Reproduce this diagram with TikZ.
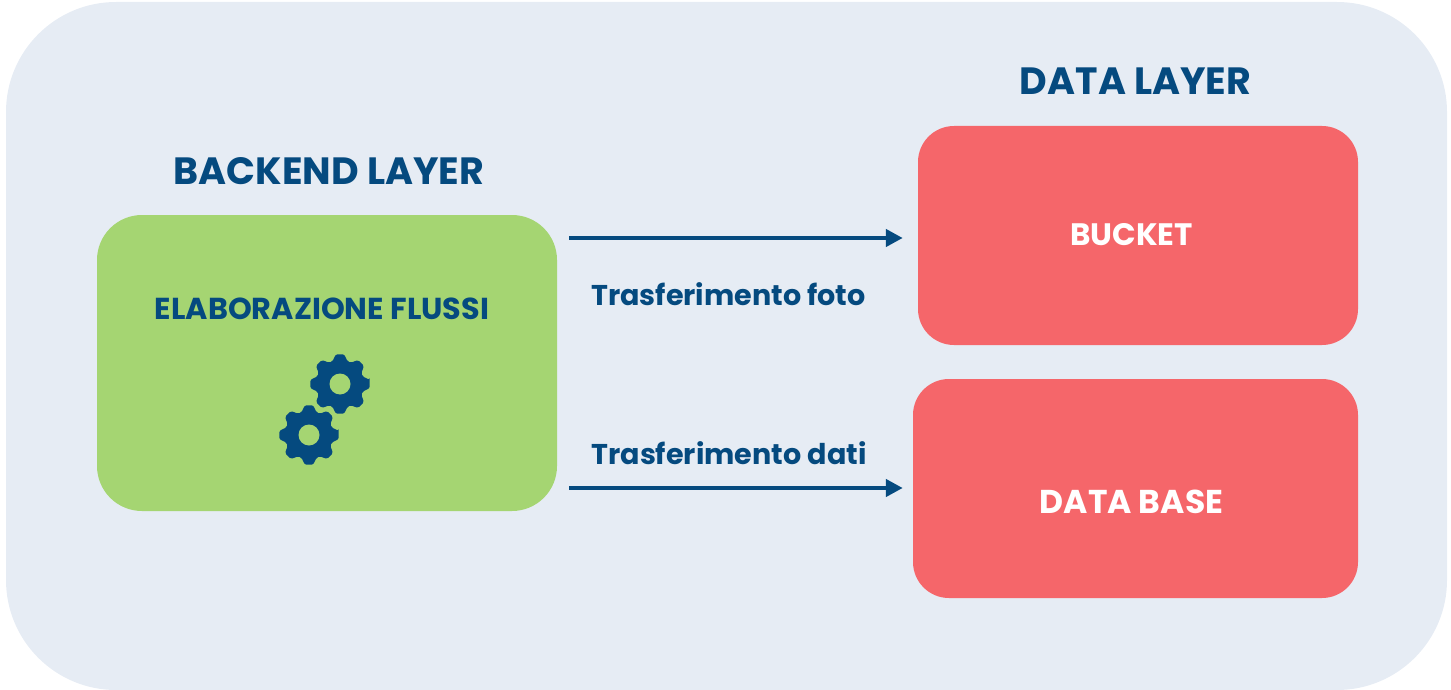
\documentclass[tikz,border=0pt]{standalone}
\usepackage{fontspec}
\setmainfont{Poppins}
\usetikzlibrary{arrows.meta}
\definecolor{panelbg}{HTML}{E6ECF4}
\definecolor{greenbox}{HTML}{A5D572}
\definecolor{redbox}{HTML}{F5666A}
\definecolor{navy}{HTML}{054A7F}
\tikzset{
  panel/.style={fill=panelbg,rounded corners=110pt,minimum width=1441pt,minimum height=688pt,inner sep=0pt},
  greenrect/.style={fill=greenbox,rounded corners=45pt,minimum width=460pt,minimum height=296pt,inner sep=0pt},
  redrect/.style={fill=redbox,rounded corners=36pt,minimum height=219pt,inner sep=0pt},
  title/.style={text=navy,font=\bfseries\fontsize{38}{42}\selectfont,inner sep=0pt},
  boxlabel/.style={text=white,font=\bfseries\fontsize{33}{38}\selectfont,inner sep=0pt},
  greenlabel/.style={text=navy,font=\bfseries\fontsize{30.3}{34}\selectfont,inner sep=0pt},
  flowlabel/.style={text=navy,font=\bfseries\fontsize{28.6}{34}\selectfont,inner sep=0pt},
  flow/.style={draw=navy,line width=4.5pt,-{Triangle[length=17pt,width=17pt]},shorten <=12pt},
}
\newcommand{\gearpath}[2]{%
  \fill[navy,rounded corners=1.5pt]
    ({#1+30*cos(-8)},{#2+30*sin(-8)})
    \foreach \k in {0,45,...,315}{
      -- ({#1+30*cos(\k-8)},{#2+30*sin(\k-8)})
      -- ({#1+30*cos(\k+8)},{#2+30*sin(\k+8)})
      -- ({#1+24*cos(\k+18)},{#2+24*sin(\k+18)})
      -- ({#1+24*cos(\k+27)},{#2+24*sin(\k+27)})
    } -- cycle;
  \fill[greenbox] (#1,#2) circle[radius=10.5];
}
\begin{document}
\begin{tikzpicture}[x=1pt,y=-1pt]
  \useasboundingbox (0,0) rectangle (1451,690);
  \node[panel] (bg) at (726.5,346) {};
  \node[greenrect] (backend) at (327,363) {};
  \node[redrect,minimum width=440pt] (bucket) at (1138,235.5) {};
  \node[redrect,minimum width=445pt] (database) at (1135.5,488.5) {};
  \node[title] (tback) at (329,171) {BACKEND LAYER};
  \node[title] (tdata) at (1135.5,81) {DATA LAYER};
  \node[greenlabel] (lflussi) at (322,309) {ELABORAZIONE FLUSSI};
  \node[boxlabel,font=\bfseries\fontsize{31}{36}\selectfont] (lbucket) at (1131.5,235) {BUCKET};
  \node[boxlabel] (ldb) at (1131.5,502) {DATA BASE};
  \node[flowlabel] (lfoto) at (728.5,294) {Trasferimento foto};
  \node[flowlabel] (ldati) at (729,453) {Trasferimento dati};
  \draw[flow,shorten >=15pt] ([yshift=125pt]backend.east) -- ([yshift=-2.5pt]bucket.west);
  \draw[flow,shorten >=10pt] ([yshift=-125pt]backend.east) -- ([yshift=0.5pt]database.west);
  \gearpath{340}{384}
  \gearpath{309}{435}
\end{tikzpicture}
\end{document}
